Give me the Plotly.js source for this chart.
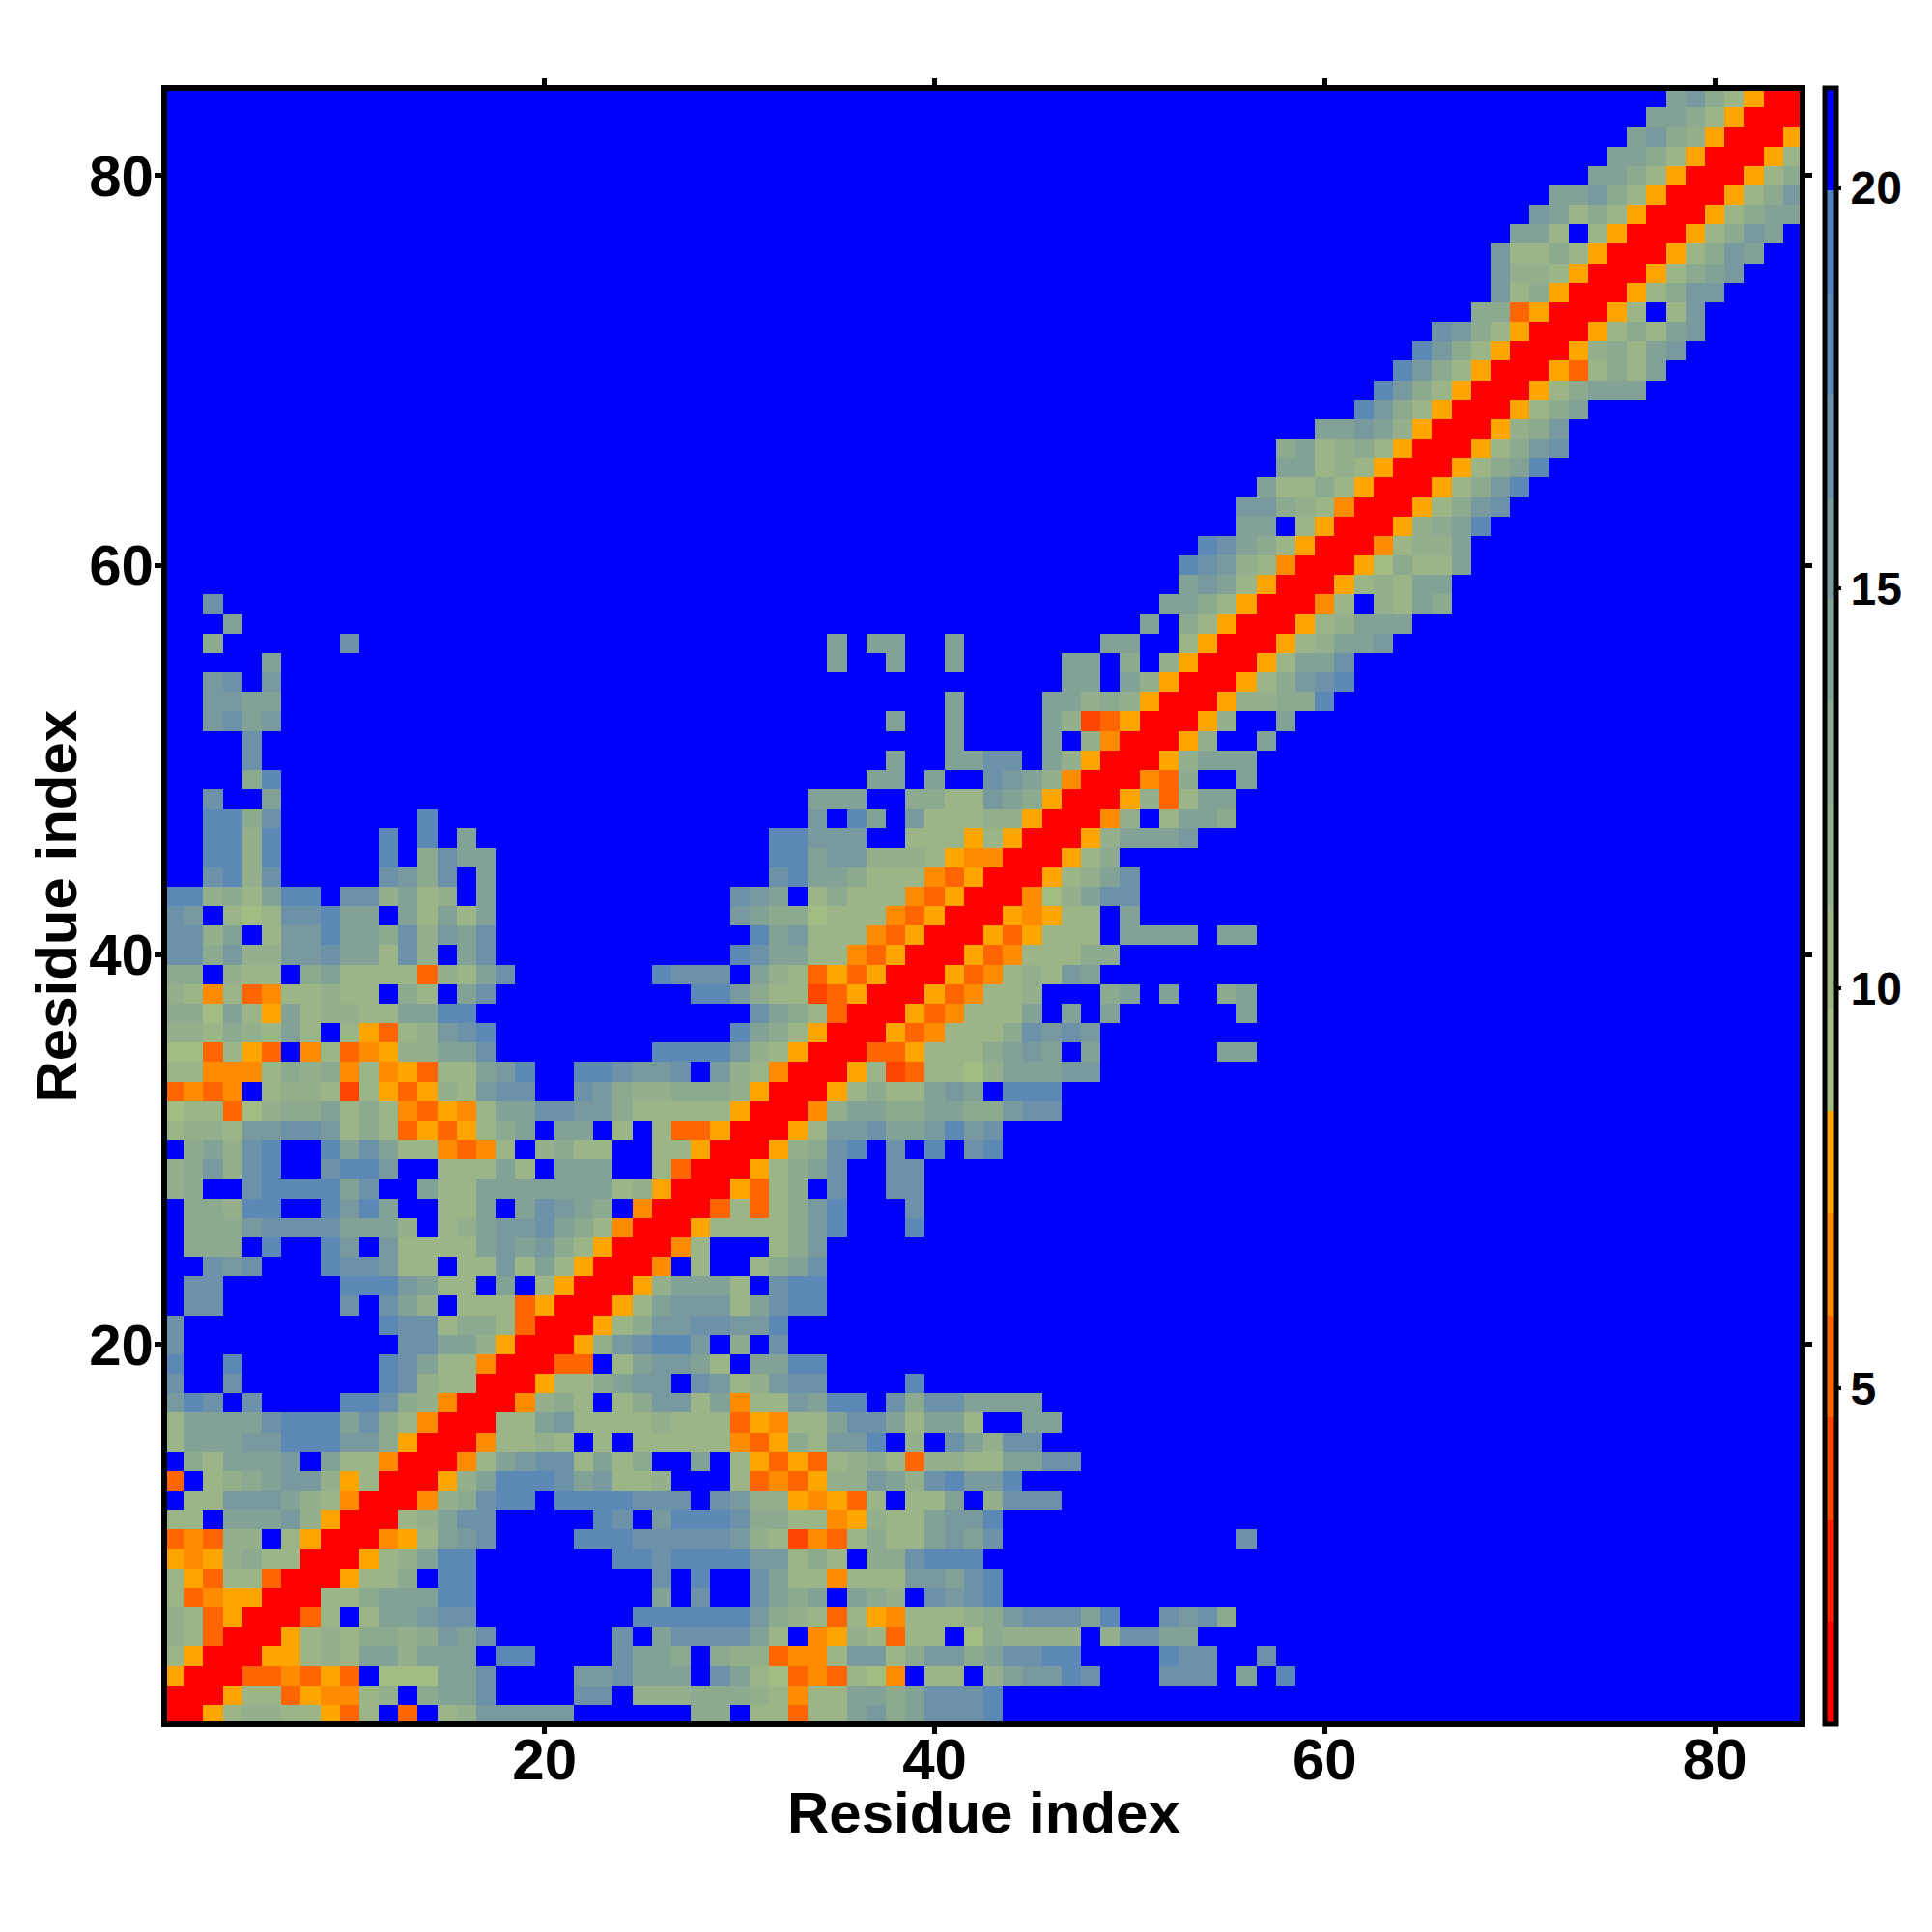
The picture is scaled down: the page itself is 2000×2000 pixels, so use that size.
<!DOCTYPE html>
<html>
<head>
<meta charset="utf-8">
<script src="https://cdn.plot.ly/plotly-3.0.1.min.js"></script>
<style>html,body{margin:0;padding:0;background:#fff}</style>
</head>
<body>
<div id="chart" style="width:2000px;height:2000px"></div>
<script>
const residues = Array.from({length: 84}, (_, i) => i + 1);
const axisTicks = [20, 40, 60, 80];
const colorbarTicks = [5, 10, 15, 20];
const axisTitle = "Residue index";
const valueMin = 0.8;
const valueMax = 21.25;
// One colour per distance band, nearest first; level codes 0-f below index these bands.
const bandColors = ["#ff0000","#ff2000","#ff4500","#ff6500","#ff8c00","#ffa500",
  "#a3bc83","#9cb587","#94af8b","#8caa90","#82a296","#789a9e","#6b92a8","#5b88b5","#5080bd","#0000ff"];
const B = "ffffffffff".repeat(5);
// Band level of each residue pair, row 1 first, columns 1..84; missing columns are the last band.
const levelRows = [
"0057887753 7f3f78bbbb bffffff99f 77377ab9ac ccd",
"0005773544 78f9aacfff fccf888999 87477aa9ac ccd",
"5000334353 f666aacfff fbbcaaafca 76343764f7 7f8abbdcff fcccfafd",
"7500055787 aa8aaafddf fffcaa9f98 83447bb79b b9accddfff fdccffc",
"8730005787 9989bacfff fffcfacccc a7f4587377 f698888f8c caa",
"873500037f 7aabccffff ffffdddddd b987375477 789bcccadf fcbc9",
"7345500077 9aaaddffff fffffafcff ca9afa98fc bcd",
"7537730005 779fddffff fffffcfdff ca774777bb acd",
"5458977000 578addffff fffddcdddd bb797f99cd dd",
"34388f7500 0457abcfff fdddcccccb 872437977a bacfffffff fffffc",
"77faaab850 0078accfff ffdcfbdddc 997745877a bbd",
"f77bbba874 000489cddf ddddcccfcb 8854537f77 af8ccc",
"3f789abb85 700058addd cab778fff7 343588ba8c dbbd",
"f97aaabfa7 7400047abc c7a79ffaf7 5353789738 877aacc",
"7aaabbdddb b950004778 7f7f777774 3597bbdf8f ca8cc",
"7aaaacddda c97400077a b777787773 5477acca7a a7ffaa",
"bdcfcffffd dc98400048 97f79bb7a4 77baddfc9c caaaa",
"cffcffffff fdc8770005 779abbfcb7 8bccffffd",
"dffdffffff fdca774000 33f7abba7f aadd",
"cfffffffff ffccaa8500 058bcddbf9 fc",
"cfffffffff fdcc799730 00579bbccb bd",
"fccffffffc fca8f77735 00057abbb7 acdd",
"fccffffffd ddba77faf7 500058aaa7 fcdd",
"ffcbcfffdc cb77f77b7a 750004f7ff 79ac",
"f999fdffdb fb7777abab 97500047ff f79b",
"f999bcccca aa8f78abbc a974000577 779bdfffd",
"f998ddffdb daff77afac ba9f400037 379bdfffc",
"89ffcdddda cffa77aaaa aaa7850005 379fcffcc",
"89b8cdffcd dbff777a7f aaaff73000 579acffcc",
"f9a8cdffda ca774347f8 977ff77500 0589cdfcfd fcd",
"7887bbccb7 97353579af aaf7f73350 0057bbcaab dbc",
"67736899a7 9743547aac cbb9777775 00048aa99a a99bcc",
"3434f78872 753587bccf fcb9889998 500057977a bafddd",
"7744479894 745377abdf fddcbbcfb8 7400057237 768aaabb",
"663753f473 4588aacfff fffffddddb 8750003357 779abafaff ffffaa",
"887987a7f7 5378bcdfff fffffffffd a975000534 7779cbcb",
"996a75a788 77aaddffff ffffffffff ca97300053 4777afafaf fffffa",
"8747347787 7f97facfff fffffffddb 9772350005 34778fff9a faff9a",
"99f877f9a7 777387acff fffffdcccf a873535000 534787ba",
"cc9b88bbca a7c8facfff fffffffffd caa7743500 053477799",
"cc8af7bbda a9c8bacfff ffffffffff dab7774350 00535777fa aaafaa",
"cbf767ccda afa7a7afff fffffffffb a996777435 00054577fa",
"dd897addfc c8a78fafff fffffffffc baf7977743 5000468acc",
"ffcd8cffff fcb9cfafff ffffffffff fcdaa97774 35000578ac",
"ffdd8dffff fdf9caafff ffffffffff fddabb8887 544000579",
"ffdd8dffff fdfdfaffff ffffffffff fddbbbff77 757500058a aab",
"ffdd9cffff fffdffffff ffffffffff fffbfdafb7 7788500048 f7aa9",
"ffcffaffff ffffffffff ffffffffff fffaaaff99 77ba950005 837aa",
"ffff9dffff ffffffffff ffffffffff ffffffaafa ffcba84000 439ffa",
"ffffcfffff ffffffffff ffffffffff fffffffaff aaccfa8500 058aaa",
"ffffcfffff ffffffffff ffffffffff ffffffffff affffaf840 0058ffa",
"ffbcabffff ffffffffff ffffffffff fffffffaff affffa8235 00058ffa",
"ffbbaaffff ffffffffff ffffffffff ffffffffff affffaa898 500058899d",
"ffbcfbffff ffffffffff ffffffffff ffffffffff ffffffaafa 8500057 9bc d",
"fffffaffff ffffffffff ffffffffff ffffaffaff afffffaaf9 f8500057aa c",
"ff9ffffffc ffffffffff ffffffffff ffffafaaff afffffffaa ff75000578 aab",
"fffaffffff ffffffffff ffffffffff ffffffffff ffffffffff af97500057 8aaa",
"ffcfffffff ffffffffff ffffffffff ffffffffff ffffffffff faa9750004 7f87a9",
B + "ffaba75000 5787aa",
B + "ffdcb87400 056977a",
B + "fffdca9750 004788a",
B + "fffffaaf75 000589ad",
B + "fffffbb987 400057 9bc",
B + "ffffffa779 75000579bd",
B + "fffffffaa7 8750005 79a d",
B + "fffffff9a7 8975000579 bc",
B + "fffffffffa aba8500058 9b",
B + "ffffffffff fdb9750005 79a",
B + "ffffffffff ffdb975000 579aaa",
B + "ffffffffff fffdb97500 0537 97a",
B + "ffffffffff ffffdb9750 00589 7ab",
B + "ffffffffff fffffcb975 000579 7ab",
B + "ffffffffff fffffff993 50005 7f7b",
B + "ffffffffff ffffffffb7 9500057 9bb",
B + "ffffffffff ffffffffb8 875000 579a b",
B + "ffffffffff ffffffffb7 7975000 579 ba",
B + "ffffffffff fffffffffa a7f7500057 9ba",
B + "ffffffffff ffffffffff ba79750005 79aa",
B + "ffffffffff ffffffffff faab975000 579b",
B + "ffffffffff ffffffffff fffaa97500 0579",
B + "ffffffffff ffffffffff ffffaa9750 0057",
B + "ffffffffff ffffffffff fffffab985 0005",
B + "ffffffffff ffffffffff ffffffaa97 5000",
B + "ffffffffff ffffffffff fffffffab9 7500"
];

const bandCount = bandColors.length;
const bandWidth = (valueMax - valueMin) / bandCount;
const distances = levelRows.map(row => {
  const codes = row.replace(/\s/g, "").padEnd(residues.length, "f").slice(0, residues.length);
  return Array.from(codes, c => valueMin + (parseInt(c, 16) + 0.5) * bandWidth);
});
const colorscale = [];
bandColors.forEach((color, i) => {
  colorscale.push([i / bandCount, color]);
  colorscale.push([(i + 1) / bandCount, color]);
});

const labelFont = {family: "Liberation Sans, Arial, sans-serif", size: 60, color: "#000", weight: 700};
const axisBase = {
  range: [0.5, 84.5],
  tickmode: "array",
  tickvals: axisTicks,
  ticks: "outside",
  ticklen: 7,
  tickwidth: 5,
  tickcolor: "#000",
  tickfont: labelFont,
  showline: true,
  linewidth: 3,
  linecolor: "#000",
  mirror: "ticks",
  showgrid: false,
  zeroline: false,
  automargin: false
};

Plotly.newPlot("chart", [{
  type: "heatmap",
  x: residues,
  y: residues,
  z: distances,
  zmin: valueMin,
  zmax: valueMax,
  colorscale: colorscale,
  hoverongaps: false,
  colorbar: {
    x: 1.0133,
    xanchor: "left",
    xpad: 0,
    y: 0,
    yanchor: "bottom",
    ypad: 0,
    len: 1,
    lenmode: "fraction",
    thickness: 12,
    thicknessmode: "pixels",
    outlinewidth: 5,
    outlinecolor: "#000",
    tickmode: "array",
    tickvals: colorbarTicks,
    ticks: "outside",
    ticklen: 3,
    tickwidth: 4,
    tickcolor: "#000",
    tickfont: {family: "Liberation Sans, Arial, sans-serif", size: 48, color: "#000", weight: 700}
  }
}], {
  width: 2000,
  height: 2000,
  margin: {l: 170, r: 133.5, t: 91, b: 215},
  paper_bgcolor: "#fff",
  plot_bgcolor: "#00f",
  showlegend: false,
  xaxis: Object.assign({}, axisBase, {ticklabelstandoff: -25}),
  yaxis: Object.assign({}, axisBase, {ticklabelstandoff: -11}),
  shapes: [{type: "rect", xref: "paper", yref: "paper", x0: 0, x1: 1, y0: 0, y1: 1,
            line: {color: "#000", width: 6}, fillcolor: "rgba(0,0,0,0)", layer: "above"}],
  annotations: [
    {text: axisTitle, font: labelFont, showarrow: false, xref: "paper", yref: "paper",
     x: 0.5, y: -0.054, xanchor: "center", yanchor: "middle"},
    {text: axisTitle, font: labelFont, showarrow: false, xref: "paper", yref: "paper",
     x: -0.0663, y: 0.5, xanchor: "center", yanchor: "middle", textangle: -90}
  ]
}, {displayModeBar: false, staticPlot: true});
</script>
</body>
</html>
